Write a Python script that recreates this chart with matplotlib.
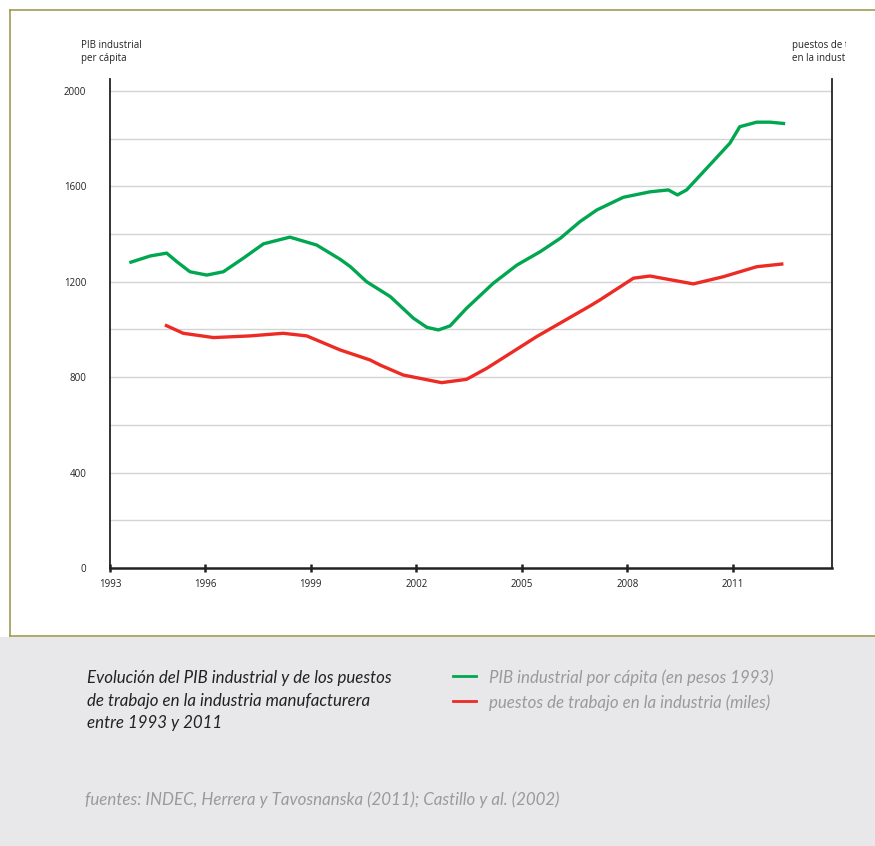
import matplotlib
matplotlib.use("Agg")
import matplotlib.pyplot as plt
from matplotlib.lines import Line2D
from matplotlib.patches import Rectangle

# ---- data ----
pib_years = [1993.85, 1994.44, 1994.91, 1995.20, 1995.57, 1996.05, 1996.52, 1997.09,
             1997.66, 1998.41, 1999.17, 1999.84, 2000.13, 2000.59, 2001.26, 2001.92,
             2002.30, 2002.63, 2002.96, 2003.43, 2004.19, 2004.86, 2005.52, 2006.09,
             2006.65, 2007.13, 2007.88, 2008.64, 2009.16, 2009.42, 2009.68, 2010.34,
             2010.91, 2011.19, 2011.67, 2012.05, 2012.48]
pib_values = [1280, 1308, 1320, 1284, 1242, 1228, 1242, 1299,
              1359, 1387, 1354, 1294, 1263, 1200, 1138, 1047,
              1009, 998, 1015, 1089, 1194, 1270, 1326, 1382,
              1452, 1501, 1554, 1577, 1585, 1564, 1585, 1690,
              1781, 1850, 1869, 1869, 1863]

emp_years = [1994.86, 1995.38, 1996.24, 1997.28, 1998.22, 1998.89, 1999.84, 2000.69,
             2000.97, 2001.63, 2002.72, 2003.43, 2004.00, 2005.42, 2006.94, 2007.22,
             2008.17, 2008.64, 2009.87, 2010.72, 2011.67, 2012.43]
emp_values = [1019, 984, 966, 973, 984, 973, 914, 872,
              851, 809, 777, 791, 837, 970, 1099, 1124,
              1215, 1224, 1191, 1221, 1263, 1275]

x_tick_years = [1993, 1996, 1999, 2002, 2005, 2008, 2011]
y_label_ticks = [0, 400, 800, 1200, 1600, 2000]
y_grid_ticks = [200, 400, 600, 800, 1000, 1200, 1400, 1600, 1800, 2000]

series_labels = ["PIB industrial por cápita (en pesos 1993)",
                 "puestos de trabajo en la industria (miles)"]
title_lines = ["Evolución del PIB industrial y de los puestos",
               "de trabajo en la industria manufacturera",
               "entre 1993 y 2011"]
source_text = "fuentes: INDEC, Herrera y Tavosnanska (2011); Castillo y al. (2002)"
left_axis_title = "PIB industrial\nper cápita"
right_axis_title = "puestos de trabajo\nen la industria"

GREEN = "#00a650"
RED = "#ee2a24"
OLIVE = "#a09c52"
PANEL = "#e8e8ea"

W, H = 875, 846
fig = plt.figure(figsize=(W / 100, H / 100), dpi=100)
fig.patch.set_facecolor("white")

def fx(px):
    return px / W

def fy(py):
    return 1 - py / H

# bottom gray panel and olive frame lines
fig.patches.append(Rectangle((0, 0), 1, fy(637), transform=fig.transFigure,
                             facecolor=PANEL, edgecolor="none", zorder=0))
fig.lines.append(Line2D([fx(10), 1], [fy(10), fy(10)], transform=fig.transFigure,
                        color=OLIVE, lw=1.2))
fig.lines.append(Line2D([fx(10), fx(10)], [fy(10), fy(636)], transform=fig.transFigure,
                        color=OLIVE, lw=1.2))
fig.lines.append(Line2D([fx(10), 1], [fy(636), fy(636)], transform=fig.transFigure,
                        color=OLIVE, lw=1.2))

# main axes
ax = fig.add_axes([fx(110), fy(568), fx(832) - fx(110), fy(79) - fy(568)])
ax.set_facecolor("none")
x0, x1 = 1993.3, 2013.81
ax.set_xlim(x0, x1)
ax.set_ylim(0, 2050)

for v in y_grid_ticks:
    ax.axhline(v, color="#d4d4d4", lw=1.0, zorder=1)

ax.plot(pib_years, pib_values, color=GREEN, lw=2.4, solid_capstyle="butt",
        solid_joinstyle="round", zorder=3)
ax.plot(emp_years, emp_values, color=RED, lw=2.4, solid_capstyle="butt",
        solid_joinstyle="round", zorder=3)

for s in ["left", "right"]:
    ax.spines[s].set_color("#222222")
    ax.spines[s].set_linewidth(1.3)
ax.spines["bottom"].set_color("#222222")
ax.spines["bottom"].set_linewidth(1.8)
ax.spines["top"].set_visible(False)

tick_pos = [x0] + x_tick_years[1:]
ax.set_xticks(tick_pos)
ax.set_xticklabels([str(y) for y in x_tick_years])
ax.set_yticks(y_label_ticks)
ax.set_yticklabels([str(v) for v in y_label_ticks])

FONT = ["Open Sans", "DejaVu Sans"]
ax.tick_params(axis="x", direction="inout", length=6, width=1.8, color="#222222",
               labelsize=7, pad=5, labelcolor="#222222")
ax.tick_params(axis="y", length=0, labelsize=7, pad=17, labelcolor="#222222")
for lab in ax.get_xticklabels() + ax.get_yticklabels():
    lab.set_fontfamily(FONT)

fig.text(fx(81), fy(52), left_axis_title, fontsize=7, family=FONT, color="#222222",
         ha="left", va="center", linespacing=1.3)

# right axis title, clipped like in the reference
cax = fig.add_axes([fx(780), fy(75), fx(846) - fx(780), fy(35) - fy(75)])
cax.set_axis_off()
rt = fig.text(fx(792), fy(52), right_axis_title, fontsize=7, family=FONT,
              color="#222222", ha="left", va="center", linespacing=1.3)
rt.set_clip_box(cax.bbox)
rt.set_clip_on(True)

# caption block
TFONT = ["Lato", "DejaVu Sans"]
CAP = 12.2
for i, line in enumerate(title_lines):
    fig.text(fx(87), fy(678 + 22.5 * i), line, fontsize=CAP, style="italic",
             family=TFONT, color="#222222", ha="left", va="center")

leg_colors = [GREEN, RED]
for i, (lab, col) in enumerate(zip(series_labels, leg_colors)):
    yy = fy(676 + 25 * i)
    fig.lines.append(Line2D([fx(453), fx(476)], [yy, yy], transform=fig.transFigure,
                            color=col, lw=2.0))
    fig.text(fx(489), fy(678 + 25 * i), lab, fontsize=CAP, style="italic",
             family=TFONT, color="#9a9a9c", ha="left", va="center")

fig.text(fx(85), fy(800), source_text, fontsize=CAP, style="italic", family=TFONT,
         color="#9a9a9c", ha="left", va="center")

fig.savefig("out.png", dpi=100)
